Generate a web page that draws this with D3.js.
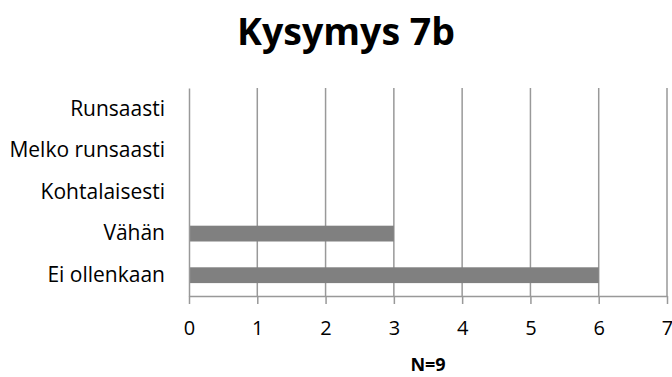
<!DOCTYPE html>
<html><head><meta charset="utf-8">
<script src="https://cdn.jsdelivr.net/npm/d3@7"></script>
<style>body{margin:0;background:#fff;} svg{display:block;}</style>
</head><body>
<script>
const categories = ["Runsaasti","Melko runsaasti","Kohtalaisesti","Vähän","Ei ollenkaan"];
const values = [0,0,0,3,6];
const xTicks = [0,1,2,3,4,5,6,7];
const title = "Kysymys 7b";
const xTitle = "N=9";

const W=672,H=377;
const m={left:189,right:5,top:88,bottom:81};
const svg=d3.select("body").append("svg").attr("width",W).attr("height",H);
const font="'Open Sans', Lato, sans-serif";
const x=d3.scaleLinear().domain([0,7]).range([m.left,W-m.right]);
const y=d3.scaleBand().domain(categories).range([m.top,H-m.bottom]).paddingInner(0.62).paddingOuter(0.31);
const yb=d3.scaleBand().domain(categories).range([m.top,H-m.bottom]);
const grid="#999";
svg.append("g").selectAll("line").data(xTicks.slice(1)).join("line")
  .attr("x1",d=>x(d)).attr("x2",d=>x(d)).attr("y1",m.top).attr("y2",H-m.bottom)
  .attr("stroke",grid).attr("stroke-width",1.5);
svg.append("g").selectAll("rect").data(values).join("rect")
  .attr("x",x(0)).attr("y",(d,i)=>y(categories[i]))
  .attr("width",d=>x(d)-x(0)).attr("height",y.bandwidth())
  .attr("fill","#808080");
const xa=svg.append("g").attr("transform",`translate(0,${H-m.bottom})`)
  .call(d3.axisBottom(x).tickValues(xTicks).tickFormat(d3.format("d")).tickSize(8).tickPadding(17).tickSizeOuter(0));
xa.select(".domain").attr("stroke",grid).attr("stroke-width",1.5);
xa.selectAll(".tick line").attr("stroke",grid).attr("stroke-width",1.5);
xa.selectAll("text").attr("font-family",font).attr("font-size",20).attr("fill","#000");
const ya=svg.append("g").attr("transform",`translate(${m.left},0)`)
  .call(d3.axisLeft(yb).tickSize(0).tickPadding(24));
ya.select(".domain").attr("stroke",grid).attr("stroke-width",1.5);
ya.selectAll("text").attr("font-family",font).attr("font-size",21).attr("fill","#000");
svg.append("text").attr("x",346).attr("y",45).attr("text-anchor","middle")
  .attr("font-family",font).attr("font-weight","bold").attr("font-size",37.5).text(title);
svg.append("text").attr("x",(x(0)+x(7))/2).attr("y",371).attr("text-anchor","middle")
  .attr("font-family",font).attr("font-weight","bold").attr("font-size",18).text(xTitle);
</script>
</body></html>
